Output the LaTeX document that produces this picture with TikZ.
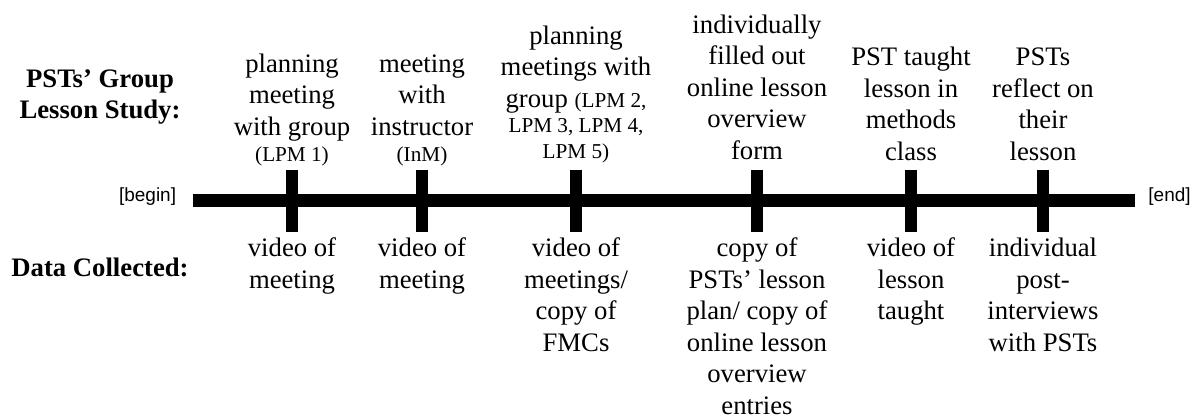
\documentclass[tikz,border=0pt]{standalone}
\usepackage{fontspec}
\setmainfont{Liberation Serif}
\newfontfamily\lsans{Liberation Sans}
\newcommand\bdf{\fontsize{13.35pt}{15.75pt}\selectfont}
\newcommand\smtext{\fontsize{10.6pt}{13pt}\selectfont}
\tikzset{
  lbl/.style={font=\bdf, align=center, inner sep=0pt, anchor=north},
  sidelabel/.style={font=\bdf\bfseries, align=center, inner sep=0pt},
  endlabel/.style={font=\lsans\fontsize{9.5pt}{11pt}\selectfont, inner sep=0pt},
  bar/.style={line width=6.25pt},
  tickmark/.style={line width=6pt}
}
\begin{document}
\begin{tikzpicture}[x=0.5pt, y=-0.5pt]
\useasboundingbox (0,0) rectangle (1199,419);
% timeline
\coordinate (bl) at (193,200.5);
\coordinate (br) at (1135,200.5);
\draw[bar] (bl) -- (br);
\foreach \n/\x in {1/292,2/422,3/576,4/757,5/911,6/1043}{
  \coordinate (t\n) at (\x,200.5);
  \draw[tickmark] ([yshift=15.5pt]t\n) -- ([yshift=-15.5pt]t\n);
}
\node[endlabel, anchor=base east] (beglab) at (176.5,201.5) {[begin]};
\node[endlabel, anchor=base west] (endlab) at (1148,201.5) {[end]};
% side labels
\node[sidelabel, anchor=north] (sA) at (100,65) {\strut PSTs’ Group\\Lesson Study:};
\node[sidelabel, anchor=base] (sB) at (100,276) {Data Collected:};
% top labels
\node[lbl] (a1) at (292,50) {\strut planning\\meeting\\with group\\[-2.5pt]{\smtext (LPM 1)}};
\node[lbl] (a2) at (422,50) {\strut meeting\\with\\instructor\\[-2.5pt]{\smtext (InM)}};
\node[lbl] (a3) at (576,22) {\strut planning\\meetings with\\group {\smtext (LPM 2,}\\[-3pt]{\smtext LPM 3, LPM 4,}\\[-3pt]{\smtext LPM 5)}};
\node[lbl] (a4) at (757,11) {\strut individually\\filled out\\online lesson\\overview\\form};
\node[lbl] (a5) at (911,43.5) {\strut PST taught\\lesson in\\methods\\class};
\node[lbl] (a6) at (1043,43.5) {\strut PSTs\\reflect on\\their\\lesson};
% bottom labels
\node[lbl] (b1) at (292,234.5) {\strut video of\\meeting};
\node[lbl] (b2) at (422,234.5) {\strut video of\\meeting};
\node[lbl] (b3) at (576,234.5) {\strut video of\\meetings/\\copy of\\FMCs};
\node[lbl] (b4) at (757,234.5) {\strut copy of\\PSTs’ lesson\\plan/ copy of\\online lesson\\overview\\entries};
\node[lbl] (b5) at (911,234.5) {\strut video of\\lesson\\taught};
\node[lbl] (b6) at (1043,234.5) {\strut individual\\post-\\interviews\\with PSTs};
\end{tikzpicture}
\end{document}
